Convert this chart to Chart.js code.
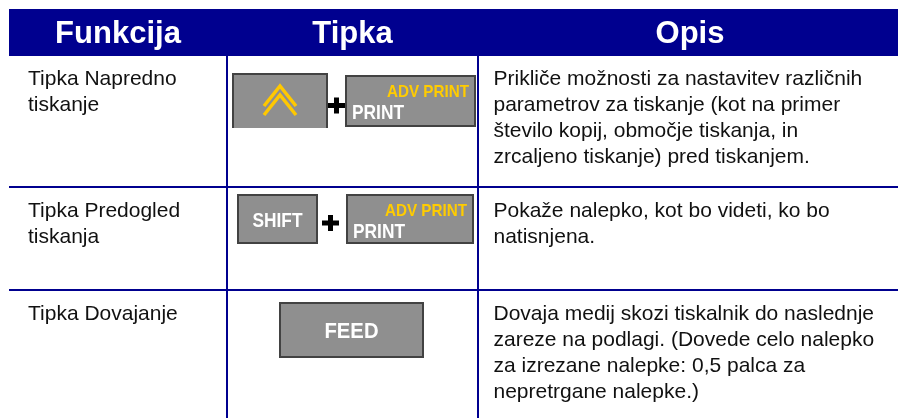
<!DOCTYPE html>
<html>
<head>
<meta charset="utf-8">
<script src="https://cdn.jsdelivr.net/npm/chart.js@4.4.1/dist/chart.umd.min.js"></script>
<style>
  html, body { margin: 0; padding: 0; background: #fff; }
  #wrap { width: 898px; height: 418px; position: relative; }
</style>
</head>
<body>
<div id="wrap"><canvas id="keys-table"></canvas></div>
<script>
// table content
const headers = ['Funkcija', 'Tipka', 'Opis'];
const functionNames = [
    ['Tipka Napredno', 'tiskanje'],
    ['Tipka Predogled', 'tiskanja'],
    ['Tipka Dovajanje']
];
const descriptions = [
    ['Prikliče možnosti za nastavitev različnih', 'parametrov za tiskanje (kot na primer', 'število kopij, območje tiskanja, in', 'zrcaljeno tiskanje) pred tiskanjem.'],
    ['Pokaže nalepko, kot bo videti, ko bo', 'natisnjena.'],
    ['Dovaja medij skozi tiskalnik do naslednje', 'zareze na podlagi. (Dovede celo nalepko', 'za izrezane nalepke: 0,5 palca za', 'nepretrgane nalepke.)']
];
// key caps per row ('ARROW' = double chevron icon)
const keyLabels = [['ARROW', 'PRINT'], ['SHIFT', 'PRINT'], ['FEED']];
const keyHints = [['', 'ADV PRINT'], ['', 'ADV PRINT'], ['']];

// layout
const colEdges = [9, 227, 478, 898];
const rowEdges = [9, 55, 187, 290, 418];
const lineColor = '#00008f';
const keyBoxes = [
    [{ x: 233, w: 94, top: 74, h: 54, open: true }, { x: 346, w: 129, top: 76, h: 50 }],
    [{ x: 238, w: 79, top: 195, h: 48 }, { x: 347, w: 126, top: 195, h: 48 }],
    [{ x: 280, w: 143, top: 303, h: 54 }]
];
const capWidths = { SHIFT: 50, FEED: 54, PRINT: 52, 'ADV PRINT': 82 };
const plusMarks = [[336.5, 105.5], [330.5, 223], null];

const tablePlugin = {
    id: 'tableCells',
    afterDatasetsDraw(chart) {
        const { ctx, scales: { x, y } } = chart;
        const px = v => x.getPixelForValue(v);
        const py = v => y.getPixelForValue(v);
        ctx.save();

        // header band
        ctx.fillStyle = lineColor;
        ctx.fillRect(px(colEdges[0]), py(rowEdges[0]), px(colEdges[3]) - px(colEdges[0]) + 4, py(rowEdges[1]) - py(rowEdges[0]));
        ctx.fillStyle = '#ffffff';
        ctx.font = 'bold 31px "Liberation Sans", Arial, sans-serif';
        ctx.textAlign = 'center';
        ctx.textBaseline = 'alphabetic';
        const headCenters = [118, 352.5, 690];
        headers.forEach((h, i) => ctx.fillText(h, px(headCenters[i]), py(43)));

        // body text
        ctx.font = '21px "Liberation Sans", Arial, sans-serif';
        ctx.fillStyle = '#111111';
        ctx.textAlign = 'left';
        for (let r = 0; r < 3; r++) {
            const base = rowEdges[r + 1] + 29.5;
            functionNames[r].forEach((t, i) => ctx.fillText(t, px(28), py(base + i * 26)));
            descriptions[r].forEach((t, i) => ctx.fillText(t, px(493.5), py(base + i * 26)));
        }

        // keys
        const capFont = size => 'bold ' + size + 'px "Liberation Sans", Arial, sans-serif';
        keyLabels.forEach((row, r) => {
            row.forEach((label, k) => {
                const b = keyBoxes[r][k];
                const x0 = px(b.x), y0 = py(b.top), x1 = px(b.x + b.w), y1 = py(b.top + b.h);
                ctx.fillStyle = '#8f8f8f';
                ctx.fillRect(x0, y0, x1 - x0, y1 - y0);
                ctx.strokeStyle = '#424242';
                ctx.lineWidth = 2;
                ctx.beginPath();
                if (b.open) {
                    ctx.moveTo(x0, y1); ctx.lineTo(x0, y0); ctx.lineTo(x1, y0); ctx.lineTo(x1, y1);
                } else {
                    ctx.rect(x0, y0, x1 - x0, y1 - y0);
                }
                ctx.stroke();

                const cx = (x0 + x1) / 2;
                if (label === 'ARROW') {
                    ctx.strokeStyle = '#ffc800';
                    ctx.lineWidth = 3.5;
                    ctx.lineJoin = 'miter';
                    [86, 95].forEach(top => {
                        ctx.beginPath();
                        ctx.moveTo(cx - 16, py(top + 20));
                        ctx.lineTo(cx, py(top));
                        ctx.lineTo(cx + 16, py(top + 20));
                        ctx.stroke();
                    });
                } else if (keyHints[r][k]) {
                    ctx.fillStyle = '#ffcc00';
                    ctx.font = capFont(17);
                    ctx.textAlign = 'right';
                    ctx.fillText(keyHints[r][k], x1 - 6, y0 + 21, capWidths[keyHints[r][k]]);
                    ctx.fillStyle = '#ffffff';
                    ctx.font = capFont(21);
                    ctx.textAlign = 'left';
                    ctx.fillText(label, x0 + 6, y0 + 43, capWidths[label]);
                } else {
                    ctx.fillStyle = '#ffffff';
                    ctx.font = capFont(label === 'FEED' ? 22 : 21);
                    ctx.textAlign = 'center';
                    ctx.fillText(label, cx, (y0 + y1) / 2 + 8, capWidths[label]);
                }
            });
            const p = plusMarks[r];
            if (p) {
                ctx.fillStyle = '#000000';
                ctx.fillRect(px(p[0]) - 8.5, py(p[1]) - 2.5, 17, 5);
                ctx.fillRect(px(p[0]) - 2.5, py(p[1]) - 8, 5, 16);
            }
        });
        ctx.restore();
    }
};

const gridOpts = {
    color: lineColor,
    lineWidth: 2,
    drawTicks: false
};

new Chart(document.getElementById('keys-table'), {
    type: 'scatter',
    data: { datasets: [] },
    options: {
        responsive: true,
        maintainAspectRatio: false,
        animation: false,
        events: [],
        layout: { padding: { top: rowEdges[0], left: colEdges[0], right: 0, bottom: 0 } },
        plugins: { legend: { display: false }, tooltip: { enabled: false } },
        scales: {
            x: {
                type: 'linear',
                min: colEdges[0],
                max: colEdges[3],
                grid: gridOpts,
                border: { display: false },
                ticks: { display: false },
                afterBuildTicks: s => { s.ticks = colEdges.slice(1, 3).map(v => ({ value: v })); }
            },
            y: {
                type: 'linear',
                reverse: true,
                min: rowEdges[0],
                max: rowEdges[4],
                grid: gridOpts,
                border: { display: false },
                ticks: { display: false },
                afterBuildTicks: s => { s.ticks = rowEdges.slice(1, 4).map(v => ({ value: v })); }
            }
        }
    },
    plugins: [tablePlugin]
});
</script>
</body>
</html>
